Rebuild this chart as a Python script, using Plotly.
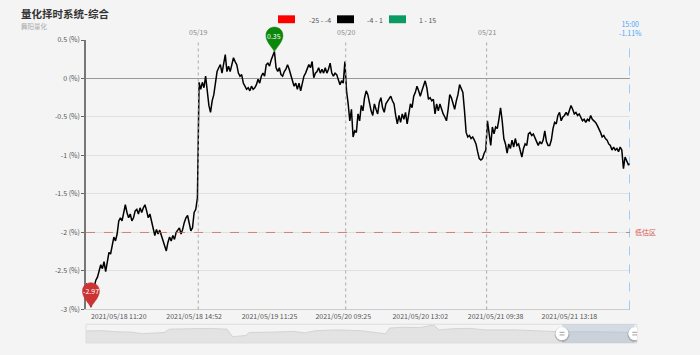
import plotly.graph_objects as go

# ---------------- data ----------------
title = "量化择时系统-综合"
subtitle = "舞阳量化"

day1 = [-2.66, -2.75, -2.85, -2.97, -2.80, -2.70, -2.62, -2.58, -2.50, -2.42, -2.47,
        -2.38, -2.51, -2.38, -2.26, -2.28, -2.15, -2.06, -2.11, -2.02, -1.85, -1.81, -1.85,
        -1.72, -1.64, -1.74, -1.81, -1.76, -1.85, -1.81, -1.72, -1.70, -1.76, -1.68, -1.74,
        -1.68, -1.64, -1.72, -1.81, -1.76, -1.87, -1.98, -2.04, -1.96, -2.02, -1.97, -2.04,
        -2.09, -2.15, -2.24, -2.13, -2.06, -2.11, -2.04, -2.09, -2.00, -1.97, -1.94, -2.02,
        -1.96, -1.87, -1.81, -1.78, -1.89, -1.98, -1.94, -1.74, -1.70, -1.55]
day2 = [-0.05, -0.14, -0.05, -0.12, 0.03, -0.14, -0.35, -0.44, -0.29, -0.21, -0.06, 0.09,
        0.14, 0.18, 0.07, 0.22, 0.31, 0.09, 0.16, 0.09, 0.20, 0.27, 0.22, 0.18, 0.07, 0.03,
        0.05, -0.06, -0.10, -0.14, -0.12, -0.16, -0.10, -0.14, -0.12, -0.08, -0.01, -0.06,
        0.03, 0.07, 0.03, 0.18, 0.20, 0.16, 0.24, 0.31, 0.35, 0.14, 0.09, 0.14, 0.05, 0.03,
        0.09, 0.12, 0.18, 0.12, 0.03, -0.03, -0.10, -0.06, -0.14, -0.06, -0.16, -0.08, 0.03,
        0.07, 0.12, 0.18, 0.14, 0.22, 0.01, 0.07, 0.09, 0.14, 0.07, 0.12, 0.07, 0.14, 0.07,
        0.12, 0.20, 0.07, 0.03, 0.07, 0.05, -0.01, -0.08, -0.03, -0.06, 0.22]
day3 = [-0.16, -0.33, -0.55, -0.40, -0.76, -0.68, -0.70, -0.46, -0.55, -0.35, -0.42, -0.25,
        -0.16, -0.21, -0.33, -0.42, -0.48, -0.33, -0.40, -0.46, -0.31, -0.25, -0.38, -0.44,
        -0.33, -0.29, -0.27, -0.23, -0.29, -0.33, -0.48, -0.59, -0.48, -0.57, -0.46, -0.53,
        -0.44, -0.59, -0.46, -0.33, -0.38, -0.23, -0.18, -0.10, -0.16, -0.23, -0.16, -0.10,
        -0.03, -0.12, -0.27, -0.25, -0.29, -0.27, -0.46, -0.33, -0.42, -0.33, -0.40, -0.46,
        -0.50, -0.55, -0.40, -0.21, -0.25, -0.33, -0.40, -0.29, -0.21, -0.08, -0.12, -0.18,
        -0.42, -0.70, -0.76, -0.74, -0.78, -0.76, -0.80, -0.85, -0.95, -1.04, -1.06, -1.04,
        -0.97, -0.93]
day4 = [-0.55, -0.74, -0.87, -0.63, -0.72, -0.63, -0.65, -0.53, -0.38, -0.55, -0.78, -0.85,
        -0.97, -0.85, -0.91, -0.80, -0.89, -0.78, -0.87, -0.85, -0.93, -1.02, -0.91, -0.85,
        -0.87, -0.72, -0.70, -0.74, -0.72, -0.78, -0.82, -0.87, -0.82, -0.85, -0.80, -0.68,
        -0.82, -0.87, -0.87, -0.80, -0.65, -0.57, -0.59, -0.48, -0.44, -0.55, -0.50, -0.48,
        -0.44, -0.48, -0.42, -0.35, -0.40, -0.46, -0.44, -0.48, -0.46, -0.50, -0.55, -0.53,
        -0.57, -0.53, -0.55, -0.48, -0.53, -0.55, -0.57, -0.61, -0.65, -0.70, -0.76, -0.74,
        -0.78, -0.80, -0.85, -0.87, -0.93, -0.89, -0.93, -0.91, -0.95, -0.89, -0.93, -1.17,
        -1.02, -1.06, -1.12, -1.11]

day_labels = ["05/19", "05/20", "05/21"]
tick_labels = ["2021/05/18 11:20", "2021/05/18 14:52", "2021/05/19 11:25",
               "2021/05/20 09:25", "2021/05/20 13:02", "2021/05/21 09:38",
               "2021/05/21 13:18"]
tick_index = [20, 66, 112, 157, 204, 250, 295]
y_ticks = [0.5, 0, -0.5, -1, -1.5, -2, -2.5, -3]
last_time = "15:00"
threshold = -2.0
threshold_label = "低估区"
legend_labels = ["-25 - -4", "-4 - 1", "1 - 15"]
legend_colors = ["#ff0000", "#000000", "#0a9a63"]

# overview (data zoom) preview, position in % of the slider and relative level
slider_t = [0, 2.8, 5.5, 8.2, 10.2, 12.2, 14.2, 15.2, 18.9, 22.3, 25.6, 26.6, 29.0, 29.6,
            33.6, 37.7, 39.7, 41.7, 45.7, 49.7, 53.1, 54.4, 55.1, 57.8, 60.5, 63.1, 64.1,
            66.5, 69.8, 72.5, 77.9, 82.6, 85.9, 92.6, 100]
slider_v = [0.64, 0.66, 0.60, 0.58, 0.50, 0.54, 0.56, 0.74, 0.76, 0.78, 0.74, 0.34, 0.40,
            0.56, 0.58, 0.62, 0.54, 0.66, 0.70, 0.66, 0.54, 0.50, 0.80, 0.84, 0.82, 0.96,
            0.70, 0.76, 0.78, 0.70, 0.70, 0.66, 0.60, 0.60, 0.56]
slider_window = [86.4, 99.6]  # selected window, % of the slider

# ---------------- derived ----------------
days = [day1, day2, day3, day4]
values = [v for d in days for v in d]
idx = list(range(len(values)))
starts = []
c = 0
for d in days:
    starts.append(c)
    c += len(d)
boundaries = [s - 0.5 for s in starts[1:]]
n_last = idx[-1]
v_last = values[-1]
i_min = min(idx, key=lambda i: values[i])
i_max = max(idx, key=lambda i: values[i])
minor_ticks = [(a + b) / 2 for a, b in zip(tick_index[:-1], tick_index[1:])]
step = tick_index[1] - tick_index[0]
minor_ticks = [tick_index[0] - step / 2] + minor_ticks + [tick_index[-1] + step / 2]

# ---------------- layout geometry (pixels) ----------------
W, H = 700, 355
PL, PR, PT, PB = 86, 637, 40, 347
MAIN_R, MAIN_B = 630, 313
SL_T = 328


def fx(px):
    return (px - PL) / (PR - PL)


def fy(py):
    return (PB - py) / (PB - PT)


FONT = "Noto Sans CJK SC, Noto Sans, sans-serif"
ymin, ymax = -3, 0.5
xdom = [0, fx(MAIN_R)]
ydom = [fy(MAIN_B), 1]
zero_pos = ydom[0] + (0 - ymin) / (ymax - ymin) * (ydom[1] - ydom[0])


def x_paper(i):
    return xdom[0] + i / n_last * (xdom[1] - xdom[0])


def y_paper(v):
    return ydom[0] + (v - ymin) / (ymax - ymin) * (ydom[1] - ydom[0])


fig = go.Figure()
fig.add_trace(go.Scatter(x=idx, y=values, mode="lines",
                         line=dict(color="#000000", width=1.5),
                         hoverinfo="skip", showlegend=False))
fig.add_trace(go.Scatter(x=slider_t, y=slider_v, mode="lines", fill="tozeroy",
                         fillcolor="#e3e3e3", line=dict(color="#cdcdcd", width=0.8),
                         xaxis="x2", yaxis="y2", hoverinfo="skip", showlegend=False))

shapes = []
annotations = []

# threshold line
shapes.append(dict(type="line", xref="x domain", yref="y", x0=0, x1=1, y0=threshold,
                   y1=threshold, line=dict(color="rgba(205,92,92,0.75)", width=1, dash="dash")))
annotations.append(dict(xref="x domain", yref="y", x=1, y=threshold, xanchor="left",
                        yanchor="middle", xshift=3, text=threshold_label, showarrow=False,
                        font=dict(size=7, color="#d9534f", family=FONT)))
# day separators
for b, lab in zip(boundaries, day_labels):
    shapes.append(dict(type="line", xref="x", yref="y domain", x0=b, x1=b, y0=0, y1=1,
                       line=dict(color="#aaaaaa", width=1, dash="dot")))
    annotations.append(dict(xref="x", yref="paper", x=b, y=1, yanchor="bottom", yshift=1,
                            text=lab, showarrow=False,
                            font=dict(size=7, color="#888888", family=FONT)))
# last point marker line
shapes.append(dict(type="line", xref="x", yref="y domain", x0=n_last, x1=n_last, y0=0, y1=1,
                   line=dict(color="#4ea6f5", width=1, dash="dash")))
annotations.append(dict(xref="x", yref="paper", x=n_last, y=1, yanchor="bottom", yshift=0,
                        text=f"{last_time}<br>{v_last:.2f}%", showarrow=False,
                        font=dict(size=7, color="#4ea6f5", family=FONT)))

# pins (paper-referenced so they are not clipped by the plot area)
pin_path = "M 0,0 C -3,5 -8.5,10 -8.5,16 C -8.5,21 -4.7,24.5 0,24.5 C 4.7,24.5 8.5,21 8.5,16 C 8.5,10 3,5 0,0 Z"
for i, col in [(i_min, "#cc3333"), (i_max, "#0b870b")]:
    shapes.append(dict(type="path", xref="paper", yref="paper", xsizemode="pixel",
                       ysizemode="pixel", xanchor=x_paper(i), yanchor=y_paper(values[i]),
                       path=pin_path, fillcolor=col, line=dict(color=col, width=0.5),
                       layer="above"))
    annotations.append(dict(xref="x", yref="y", x=i, y=values[i], yshift=16,
                            text=f"{values[i]:.2f}", showarrow=False,
                            font=dict(size=7, color="#ffffff", family=FONT)))

# title
annotations.append(dict(xref="paper", yref="paper", x=fx(19), y=fy(13.5), xanchor="left",
                        yanchor="middle", text=f"<b>{title}</b>", showarrow=False,
                        font=dict(size=10.5, color="#333333", family=FONT)))
annotations.append(dict(xref="paper", yref="paper", x=fx(19), y=fy(26), xanchor="left",
                        yanchor="middle", text=subtitle, showarrow=False,
                        font=dict(size=6.5, color="#aaaaaa", family=FONT)))

# legend (visual map pieces)
leg_rect_left = [278, 337, 389]
leg_text_center = [319.5, 374.5, 427.5]
for lab, col, rl, tc in zip(legend_labels, legend_colors, leg_rect_left, leg_text_center):
    shapes.append(dict(type="rect", xref="paper", yref="paper", x0=fx(rl), x1=fx(rl + 17),
                       y0=fy(23), y1=fy(15), fillcolor=col, line=dict(width=0)))
    annotations.append(dict(xref="paper", yref="paper", x=fx(tc), y=fy(19.5), xanchor="center",
                            yanchor="middle", text=lab, showarrow=False,
                            font=dict(size=7, color="#555555", family=FONT)))

# slider frame, window and handles
sl_top = fy(SL_T)
shapes.append(dict(type="rect", xref="paper", yref="paper", x0=0, x1=1, y0=0, y1=sl_top,
                   line=dict(color="#dddddd", width=1), fillcolor="rgba(0,0,0,0)", layer="above"))
shapes.append(dict(type="rect", xref="x2", yref="paper", x0=slider_window[0], x1=slider_window[1],
                   y0=0, y1=sl_top, fillcolor="rgba(167,183,204,0.4)", line=dict(width=0),
                   layer="above"))
for hx in slider_window:
    for r, colr in [(7.5, "rgba(0,0,0,0.18)"), (6.5, "#ffffff")]:
        shapes.append(dict(type="circle", xref="x2", yref="paper", xsizemode="pixel",
                           ysizemode="pixel", xanchor=hx, yanchor=sl_top / 2,
                           x0=-r, x1=r, y0=-r - (0.8 if r > 7 else 0), y1=r - (0.8 if r > 7 else 0),
                           fillcolor=colr, line=dict(width=0), layer="above"))
    shapes.append(dict(type="path", xref="x2", yref="paper", xsizemode="pixel",
                       ysizemode="pixel", xanchor=hx, yanchor=sl_top / 2,
                       path="M -2.5,1.3 L 2.5,1.3 M -2.5,-1.3 L 2.5,-1.3",
                       line=dict(color="#888888", width=0.8), layer="above"))

fig.update_layout(
    width=W, height=H,
    margin=dict(l=PL, r=W - PR, t=PT, b=H - PB),
    paper_bgcolor="#f4f4f4", plot_bgcolor="#f4f4f4",
    font=dict(family=FONT),
    showlegend=False,
    xaxis=dict(domain=xdom, range=[0, n_last], tickvals=tick_index,
               ticktext=tick_labels, tickfont=dict(size=7, color="#555555"), ticks="",
               showgrid=False, zeroline=False, showline=True, linecolor="#cccccc",
               linewidth=1, anchor="y", fixedrange=True),
    yaxis=dict(domain=ydom, range=[ymin, ymax], tickvals=y_ticks,
               ticktext=[f"{v:g} (%)" for v in y_ticks], tickfont=dict(size=7, color="#555555"),
               ticks="outside", ticklen=3, tickcolor="#666666", showline=True,
               linecolor="#777777", linewidth=1.5, showgrid=True, gridcolor="#e0e0e0",
               gridwidth=1, zeroline=True, zerolinecolor="#999999", zerolinewidth=1,
               anchor="x", fixedrange=True),
    xaxis3=dict(overlaying="x", anchor="free", position=zero_pos, range=[0, n_last],
                tickvals=minor_ticks, showticklabels=False, ticks="outside", ticklen=3,
                tickcolor="#999999", showgrid=False, zeroline=False, showline=False,
                side="bottom"),
    xaxis2=dict(domain=[0, 1], range=[0, 100], anchor="y2", visible=False, fixedrange=True),
    yaxis2=dict(domain=[0, sl_top], range=[0, 1], anchor="x2", visible=False, fixedrange=True),
    shapes=shapes,
    annotations=annotations,
)

fig.write_html("out.html")
